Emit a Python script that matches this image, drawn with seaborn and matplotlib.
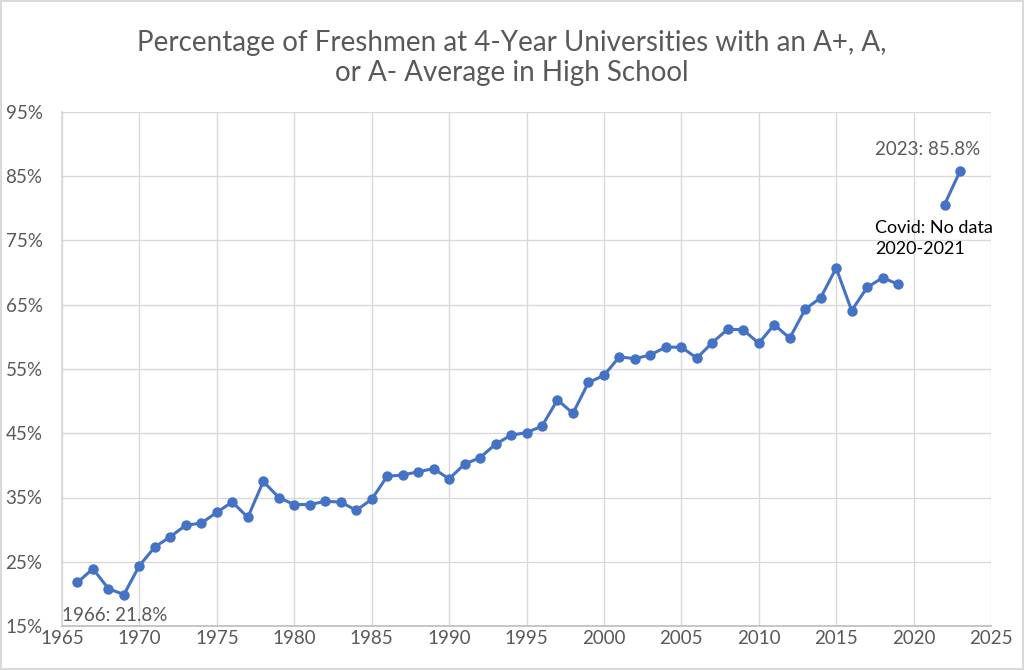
import numpy as np
import pandas as pd
import matplotlib
matplotlib.use("Agg")
import matplotlib.pyplot as plt
import seaborn as sns

years = list(range(1966, 2020)) + [2022, 2023]
values = [21.8, 23.9, 20.8, 19.9, 24.4, 27.3, 28.9, 30.7, 31.0, 32.7,
          34.3, 31.9, 37.5, 35.0, 33.9, 33.9, 34.4, 34.3, 33.0, 34.7,
          38.3, 38.5, 39.0, 39.5, 37.9, 40.2, 41.2, 43.3, 44.7, 45.1,
          46.1, 50.2, 48.1, 52.9, 54.0, 56.9, 56.6, 57.2, 58.4, 58.4,
          56.7, 59.1, 61.2, 61.1, 59.0, 61.9, 59.8, 64.3, 66.1, 70.7,
          64.1, 67.7, 69.2, 68.2, 80.6, 85.8]
segments = ["pre" if y < 2020 else "post" for y in years]
x_ticks = list(range(1965, 2030, 5))
y_ticks = list(range(15, 100, 10))
title = "Percentage of Freshmen at 4-Year Universities with an A+, A,\nor A- Average in High School"

df = pd.DataFrame({"year": years, "value": values, "segment": segments})

sns.set_theme(style="white")
plt.rcParams["font.family"] = ["Lato", "DejaVu Sans"]

fig = plt.figure(figsize=(10.24, 6.70), dpi=100)
fig.patch.set_edgecolor("#d9d9d9")
fig.patch.set_linewidth(1.5)
ax = fig.add_axes([62/1024, 1 - 626/670, (991-62)/1024, (626-112)/670])

sns.lineplot(data=df, x="year", y="value", units="segment", estimator=None,
             color="#4472C4", linewidth=2.2, marker="o", markersize=7.5,
             markeredgewidth=0, ax=ax, legend=False)

ax.set_xlim(1965, 2025)
ax.set_ylim(15, 95)
ax.set_xticks(x_ticks)
ax.set_yticks(y_ticks)
ax.set_xticklabels([str(t) for t in x_ticks], color="#595959", fontsize=13.5)
ax.set_yticklabels([f"{t}%" for t in y_ticks], color="#595959", fontsize=13.5)
ax.tick_params(axis="both", length=0)
ax.tick_params(axis="x", pad=3)
ax.tick_params(axis="y", pad=14)
ax.grid(True, color="#d9d9d9", linewidth=1)
for s in ["top", "right"]:
    ax.spines[s].set_visible(False)
ax.spines["left"].set_color("#d9d9d9")
ax.spines["bottom"].set_color("#bfbfbf")
ax.set_xlabel("")
ax.set_ylabel("")

fig.text(0.5, 1 - 58/670, title, ha="center", va="center", fontsize=20,
         color="#595959", linespacing=1.2)

ax.text(1965.0, 16.6, "1966: 21.8%", fontsize=13.5, color="#595959", ha="left", va="center")
ax.text(2017.5, 89.2, "2023: 85.8%", fontsize=13.5, color="#595959", ha="left", va="center")
ax.text(2017.5, 75.3, "Covid: No data\n2020-2021", fontsize=13, color="black",
        ha="left", va="center", linespacing=1.45)

fig.savefig("out.png", dpi=100)
